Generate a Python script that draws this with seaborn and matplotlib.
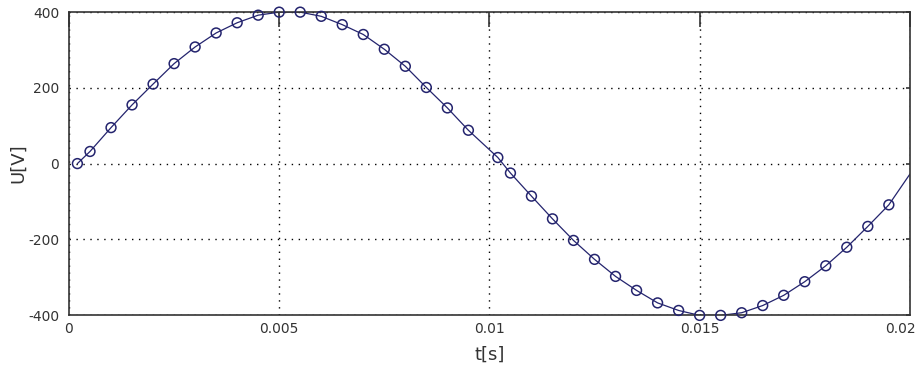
import matplotlib
matplotlib.use("Agg")
import matplotlib.pyplot as plt
import matplotlib.transforms as mtransforms
import seaborn as sns
import pandas as pd

# sampled points (markers)
t = [0.0002, 0.0005, 0.001, 0.0015, 0.002, 0.0025, 0.003, 0.0035, 0.004, 0.0045,
     0.005, 0.0055, 0.006, 0.0065, 0.007, 0.0075, 0.008, 0.0085, 0.009, 0.0095,
     0.0102, 0.0105, 0.011, 0.0115, 0.012, 0.0125, 0.013, 0.0135, 0.014, 0.0145,
     0.015, 0.0155, 0.016, 0.0165, 0.017, 0.0175, 0.018, 0.0185, 0.019, 0.0195]
u = [0, 32, 95, 155, 210, 264, 308, 345, 372, 392,
     400, 400, 389, 367, 341, 302, 257, 201, 147, 88,
     16, -25, -86, -146, -203, -253, -298, -335, -368, -388,
     -401, -401, -394, -375, -348, -312, -270, -221, -166, -109]

# the curve runs on to the end of the window
t_end = [0.02]
u_end = [-28]

x_ticks = [0, 0.005, 0.01, 0.015, 0.02]
x_labels = ["0", "0.005", "0.01", "0.015", "0.02"]
y_ticks = [-400, -200, 0, 200, 400]

df_pts = pd.DataFrame({"t": t, "u": u})
df_line = pd.DataFrame({"t": t + t_end, "u": u + u_end})

sns.set_style("white")
plt.rcParams["font.family"] = ["DejaVu Sans"]
plt.rcParams["axes.unicode_minus"] = False

color = "#24246e"
txt = "#333333"

fig = plt.figure(figsize=(9.21, 3.68), dpi=100)
ax = fig.add_axes([0.0749, 0.144, 0.913, 0.823])

sns.lineplot(data=df_line, x="t", y="u", ax=ax, color=color, linewidth=0.9)
sns.scatterplot(data=df_pts, x="t", y="u", ax=ax, marker="o", s=50,
                facecolor="none", edgecolor=color, linewidth=1.1,
                clip_on=False, zorder=3)

ax.set_xlim(0, 0.02)
ax.set_ylim(-400, 400)
ax.set_xticks(x_ticks)
ax.set_xticklabels(x_labels)
ax.set_yticks(y_ticks)

ax.grid(True, color="black", linestyle=(0, (1, 4)), linewidth=1.0)
ax.tick_params(axis="both", direction="in", length=11, width=1.2,
               top=True, right=True, labelsize=10, colors=txt)
ax.tick_params(axis="x", pad=5)
ax.tick_params(axis="y", pad=7)

# right-hand ticks are only short marks
for tk in ax.yaxis.get_major_ticks():
    tk.tick2line.set_markersize(3)

# last x label sits a bit inside the figure
lab = ax.get_xticklabels()[-1]
lab.set_transform(lab.get_transform() + mtransforms.ScaledTranslation(-9 / 100, 0, fig.dpi_scale_trans))

for s in ax.spines.values():
    s.set_color("#333333")
    s.set_linewidth(1.2)

ax.set_xlabel("t[s]", fontsize=13, color=txt, labelpad=7)
ax.set_ylabel("U[V]", fontsize=13, color=txt, labelpad=1)

fig.savefig("out.png", dpi=100)
